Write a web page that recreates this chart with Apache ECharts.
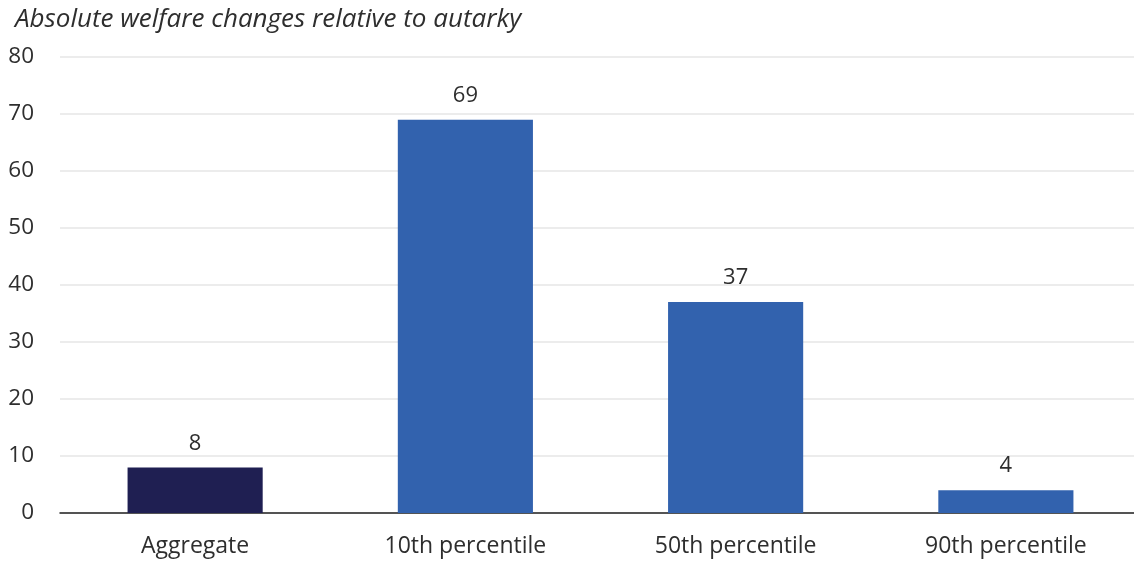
<!DOCTYPE html>
<html>
<head>
<meta charset="utf-8">
<script src="https://cdn.jsdelivr.net/npm/echarts@6/dist/echarts.min.js"></script>
<style>
  html, body { margin: 0; padding: 0; background: #ffffff; }
  #chart { width: 1134px; height: 562px; }
</style>
</head>
<body>
<div id="chart"></div>
<script>
// Welfare changes relative to autarky, by income group
const categories = ['Aggregate', '10th percentile', '50th percentile', '90th percentile'];
const values = [8, 69, 37, 4];
const barColors = ['#1f1f52', '#3262ae', '#3262ae', '#3262ae'];
const yTicks = [0, 10, 20, 30, 40, 50, 60, 70, 80];

const FONT = '"Open Sans", "Noto Sans", sans-serif';

const chart = echarts.init(document.getElementById('chart'));
chart.setOption({
  animation: false,
  backgroundColor: '#ffffff',
  title: {
    text: 'Absolute welfare changes relative to autarky',
    left: 10,
    top: 2,
    textStyle: {
      fontFamily: FONT,
      fontStyle: 'italic',
      fontWeight: 'normal',
      fontSize: 26,
      color: '#2e2e2e'
    }
  },
  // the plot runs slightly past the right edge of the canvas
  grid: { left: 60, width: 1081, top: 57, bottom: 49, outerBoundsMode: 'none' },
  xAxis: {
    type: 'category',
    data: categories,
    axisLine: { lineStyle: { color: '#222222', width: 1.5 } },
    axisTick: { show: false },
    axisLabel: {
      fontFamily: FONT,
      fontSize: 23,
      color: '#2e2e2e',
      margin: 22
    }
  },
  yAxis: {
    type: 'value',
    min: yTicks[0],
    max: yTicks[yTicks.length - 1],
    interval: 10,
    axisLine: { show: false },
    axisTick: { show: false },
    splitLine: { lineStyle: { color: '#e6e6e6', width: 1.5 } },
    axisLabel: {
      fontFamily: FONT,
      fontSize: 22.5,
      color: '#2e2e2e',
      margin: 26,
      align: 'right'
    }
  },
  series: [{
    type: 'bar',
    barWidth: '50%',
    data: values.map((v, i) => ({ value: v, itemStyle: { color: barColors[i] } })),
    label: {
      show: true,
      position: 'top',
      distance: 13,
      fontFamily: FONT,
      fontSize: 22,
      color: '#2e2e2e'
    }
  }]
});
</script>
</body>
</html>
